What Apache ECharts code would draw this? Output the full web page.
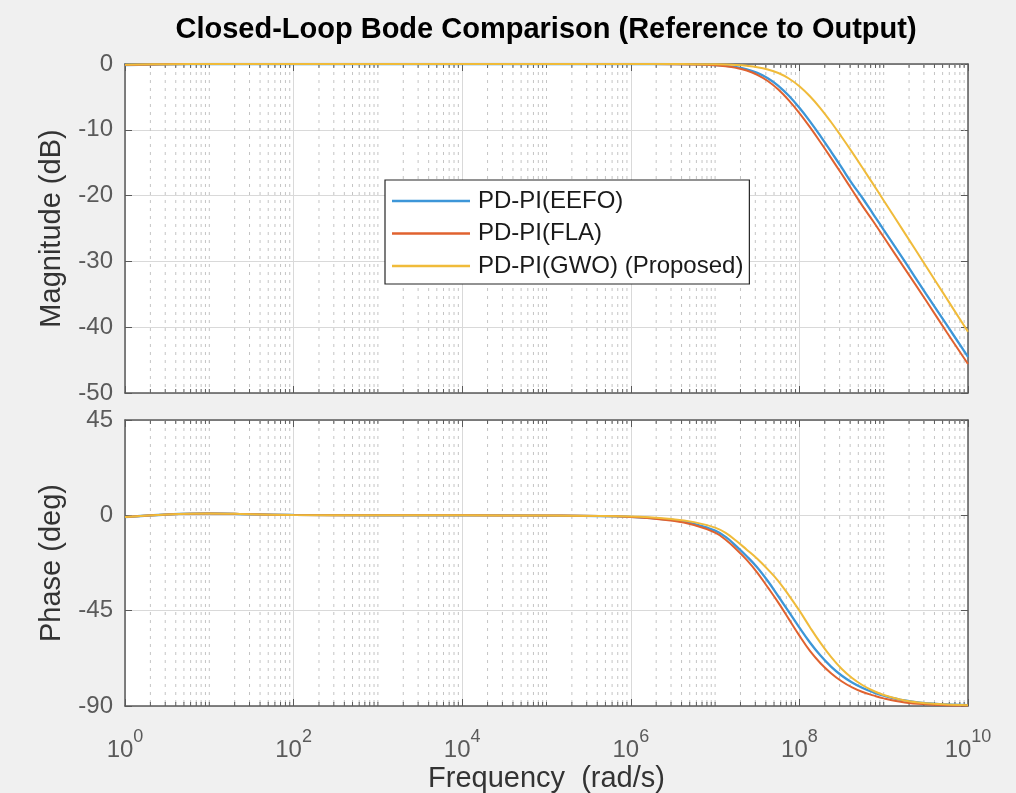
<!DOCTYPE html>
<html>
<head>
<meta charset="utf-8">
<script src="https://cdn.jsdelivr.net/npm/echarts@6/dist/echarts.min.js"></script>
<style>html,body{margin:0;padding:0;background:#f0f0f0;}#c{width:1016px;height:793px;}</style>
</head>
<body>
<div id="c"></div>
<script>
// log10 of frequency (rad/s) at the sampled points
const freqExp = [0, 0.5, 1, 1.5, 2, 3, 4, 5, 6, 6.5, 6.75, 7, 7.125, 7.25, 7.375, 7.5, 7.625, 7.75, 7.875, 8, 8.125, 8.25, 8.375, 8.5, 8.625, 8.75, 8.875, 9, 9.25, 9.5, 9.75, 10];
// magnitude (dB)
const magEEFO = [-0.15, -0.05, 0, 0, 0, 0, 0, 0, 0, -0.01, -0.05, -0.16, -0.27, -0.47, -0.81, -1.35, -2.16, -3.32, -4.83, -6.66, -8.72, -10.96, -13.31, -15.72, -18.17, -20.4, -22.8, -25.2, -30.0, -34.9, -39.7, -44.5];
const magFLA  = [-0.15, -0.05, 0, 0, 0, 0, 0, 0, 0, -0.02, -0.06, -0.19, -0.34, -0.59, -0.99, -1.64, -2.58, -3.88, -5.53, -7.46, -9.6, -11.89, -14.27, -16.69, -19.15, -21.6, -23.9, -26.3, -31.1, -35.9, -40.8, -45.6];
const magGWO  = [-0.1, -0.03, 0, 0, 0, 0, 0, 0, 0, -0.01, -0.02, -0.05, -0.09, -0.16, -0.28, -0.48, -0.83, -1.37, -2.2, -3.37, -4.9, -6.73, -8.81, -11.06, -13.4, -15.81, -18.26, -20.74, -25.7, -30.7, -35.7, -40.7];
// phase (deg)
const phEEFO = [-0.8, 0.4, 0.9, 0.5, 0.2, 0.05, 0, -0.1, -0.7, -2.2, -4.0, -7.2, -10.2, -14.5, -19.3, -24.6, -31.0, -38.2, -45.6, -53.0, -60.0, -66.2, -71.4, -75.6, -78.9, -81.5, -83.5, -85.1, -87.4, -88.7, -89.3, -89.6];
const phFLA  = [-0.8, 0.4, 0.9, 0.5, 0.2, 0.05, 0, -0.1, -0.8, -2.6, -4.6, -8.2, -11.5, -16.0, -21.0, -27.0, -34.0, -41.2, -49.0, -56.8, -64.0, -69.8, -74.5, -78.3, -81.2, -83.4, -85.0, -86.4, -88.3, -89.2, -89.6, -89.8];
const phGWO  = [-0.8, 0.4, 0.9, 0.5, 0.2, 0.05, 0, -0.1, -0.5, -1.8, -3.2, -5.8, -8.3, -12.0, -16.2, -20.5, -25.5, -31.0, -37.8, -45.0, -52.8, -60.2, -66.8, -72.4, -76.8, -80.2, -82.8, -84.8, -87.4, -88.7, -89.3, -89.6];
// axis ticks
const decades = [0, 1, 2, 3, 4, 5, 6, 7, 8, 9];
const minorMult = [1, 2, 3, 4, 5, 6, 7, 8, 9];
const majorStep = 2;
const names = ['PD-PI(EEFO)', 'PD-PI(FLA)', 'PD-PI(GWO) (Proposed)'];
const colors = ['#3d96d8', '#e0622f', '#f0bb3a'];

const FONT = "'Liberation Sans', Arial, Helvetica, sans-serif";
const AX = '#5a5a5a';
const TXT = '#333333';

const minorExps = [];
decades.forEach(d => minorMult.forEach(m => {
  if (m === 1 && d % majorStep === 0) return;
  minorExps.push([d + Math.log10(m), 0]);
}));

const pairs = arr => freqExp.map((e, i) => [e, arr[i]]);

function minorRender(params, api) {
  const cs = params.coordSys;
  const x = api.coord([api.value(0), api.value(1)])[0];
  const top = cs.y, bot = cs.y + cs.height;
  return {
    type: 'group',
    children: [
      {type: 'line', shape: {x1: x, y1: top, x2: x, y2: bot}, style: {stroke: '#c4c4c4', lineWidth: 1, lineDash: [3, 5]}},
      {type: 'line', shape: {x1: x, y1: bot, x2: x, y2: bot - 4}, style: {stroke: AX, lineWidth: 1}},
      {type: 'line', shape: {x1: x, y1: top, x2: x, y2: top + 4}, style: {stroke: AX, lineWidth: 1}}
    ]
  };
}

const xCommon = {
  type: 'value', min: 0, max: 10, interval: majorStep,
  axisLine: {show: true, onZero: false, lineStyle: {color: AX, width: 1.5}},
  axisTick: {show: true, inside: true, length: 7, lineStyle: {color: AX, width: 1}},
  splitLine: {show: false}
};
const yCommon = {
  type: 'value',
  axisLine: {show: true, onZero: false, lineStyle: {color: AX, width: 1.5}},
  axisTick: {show: true, inside: true, length: 7, lineStyle: {color: AX, width: 1}},
  splitLine: {show: false}
};

const lineSeries = (i, arr, xi, yi) => ({
  name: names[i], type: 'line', xAxisIndex: xi, yAxisIndex: yi, data: pairs(arr),
  smooth: 0.4, symbol: 'none', showSymbol: false,
  lineStyle: {width: i === 0 ? 2.3 : 2, color: colors[i]}, itemStyle: {color: colors[i]}, z: 3
});

const chart = echarts.init(document.getElementById('c'), null, {renderer: 'canvas'});
chart.setOption({
  animation: false,
  backgroundColor: '#f0f0f0',
  title: {
    text: 'Closed-Loop Bode Comparison (Reference to Output)',
    left: 546, top: 15, textAlign: 'center', padding: 0,
    textStyle: {fontFamily: FONT, fontSize: 29, fontWeight: 'bold', color: '#000'}
  },
  legend: {
    orient: 'vertical', left: 385, top: 180,
    data: names,
    icon: 'rect',
    itemWidth: 78, itemHeight: 2.6, itemGap: 8.5,
    padding: [9, 6, 6, 7],
    backgroundColor: '#ffffff', borderColor: '#262626', borderWidth: 1.2, borderRadius: 0,
    selectedMode: false,
    textStyle: {fontFamily: FONT, fontSize: 24, lineHeight: 24, color: '#1a1a1a', padding: [0, 0, 0, 3]}
  },
  grid: [
    {left: 125, top: 64, width: 843, height: 329, show: true, backgroundColor: '#ffffff', borderWidth: 0, containLabel: false, outerBoundsMode: 'none'},
    {left: 125, top: 420, width: 843, height: 286, show: true, backgroundColor: '#ffffff', borderWidth: 0, containLabel: false, outerBoundsMode: 'none'}
  ],
  xAxis: [
    Object.assign({}, xCommon, {gridIndex: 0, position: 'bottom', axisLabel: {show: false},
      splitLine: {show: true, lineStyle: {color: '#d9d9d9', width: 1}}}),
    Object.assign({}, xCommon, {gridIndex: 0, position: 'top', axisLabel: {show: false}}),
    Object.assign({}, xCommon, {gridIndex: 1, position: 'bottom',
      splitLine: {show: true, lineStyle: {color: '#d9d9d9', width: 1}},
      axisLabel: {show: true, margin: 32, formatter: v => '{b|10}{s|' + v + '}',
        rich: {
          b: {fontFamily: FONT, fontSize: 24, lineHeight: 24, color: AX},
          s: {fontFamily: FONT, fontSize: 18, lineHeight: 18, color: AX, padding: [0, 0, 26, 0]}
        }},
      name: 'Frequency  (rad/s)', nameLocation: 'middle', nameGap: 58, nameMoveOverlap: false,
      nameTextStyle: {fontFamily: FONT, fontSize: 29, color: TXT}}),
    Object.assign({}, xCommon, {gridIndex: 1, position: 'top', axisLabel: {show: false}})
  ],
  yAxis: [
    Object.assign({}, yCommon, {gridIndex: 0, position: 'left', min: -50, max: 0, interval: 10,
      splitLine: {show: true, lineStyle: {color: '#d9d9d9', width: 1}},
      axisLabel: {show: true, margin: 12, fontFamily: FONT, fontSize: 24, color: AX},
      name: 'Magnitude (dB)', nameLocation: 'middle', nameGap: 59, nameMoveOverlap: false,
      nameTextStyle: {fontFamily: FONT, fontSize: 29, color: TXT}}),
    Object.assign({}, yCommon, {gridIndex: 0, position: 'right', min: -50, max: 0, interval: 10, axisLabel: {show: false}}),
    Object.assign({}, yCommon, {gridIndex: 1, position: 'left', min: -90, max: 45, interval: 45,
      splitLine: {show: true, lineStyle: {color: '#d9d9d9', width: 1}},
      axisLabel: {show: true, margin: 12, fontFamily: FONT, fontSize: 24, color: AX},
      name: 'Phase (deg)', nameLocation: 'middle', nameGap: 59, nameMoveOverlap: false,
      nameTextStyle: {fontFamily: FONT, fontSize: 29, color: TXT}}),
    Object.assign({}, yCommon, {gridIndex: 1, position: 'right', min: -90, max: 45, interval: 45, axisLabel: {show: false}})
  ],
  series: [
    {type: 'custom', xAxisIndex: 0, yAxisIndex: 0, data: minorExps, renderItem: minorRender, z: 1, silent: true},
    {type: 'custom', xAxisIndex: 2, yAxisIndex: 2, data: minorExps, renderItem: minorRender, z: 1, silent: true},
    lineSeries(0, magEEFO, 0, 0),
    lineSeries(1, magFLA, 0, 0),
    lineSeries(2, magGWO, 0, 0),
    lineSeries(0, phEEFO, 2, 2),
    lineSeries(1, phFLA, 2, 2),
    lineSeries(2, phGWO, 2, 2)
  ]
});
</script>
</body>
</html>
